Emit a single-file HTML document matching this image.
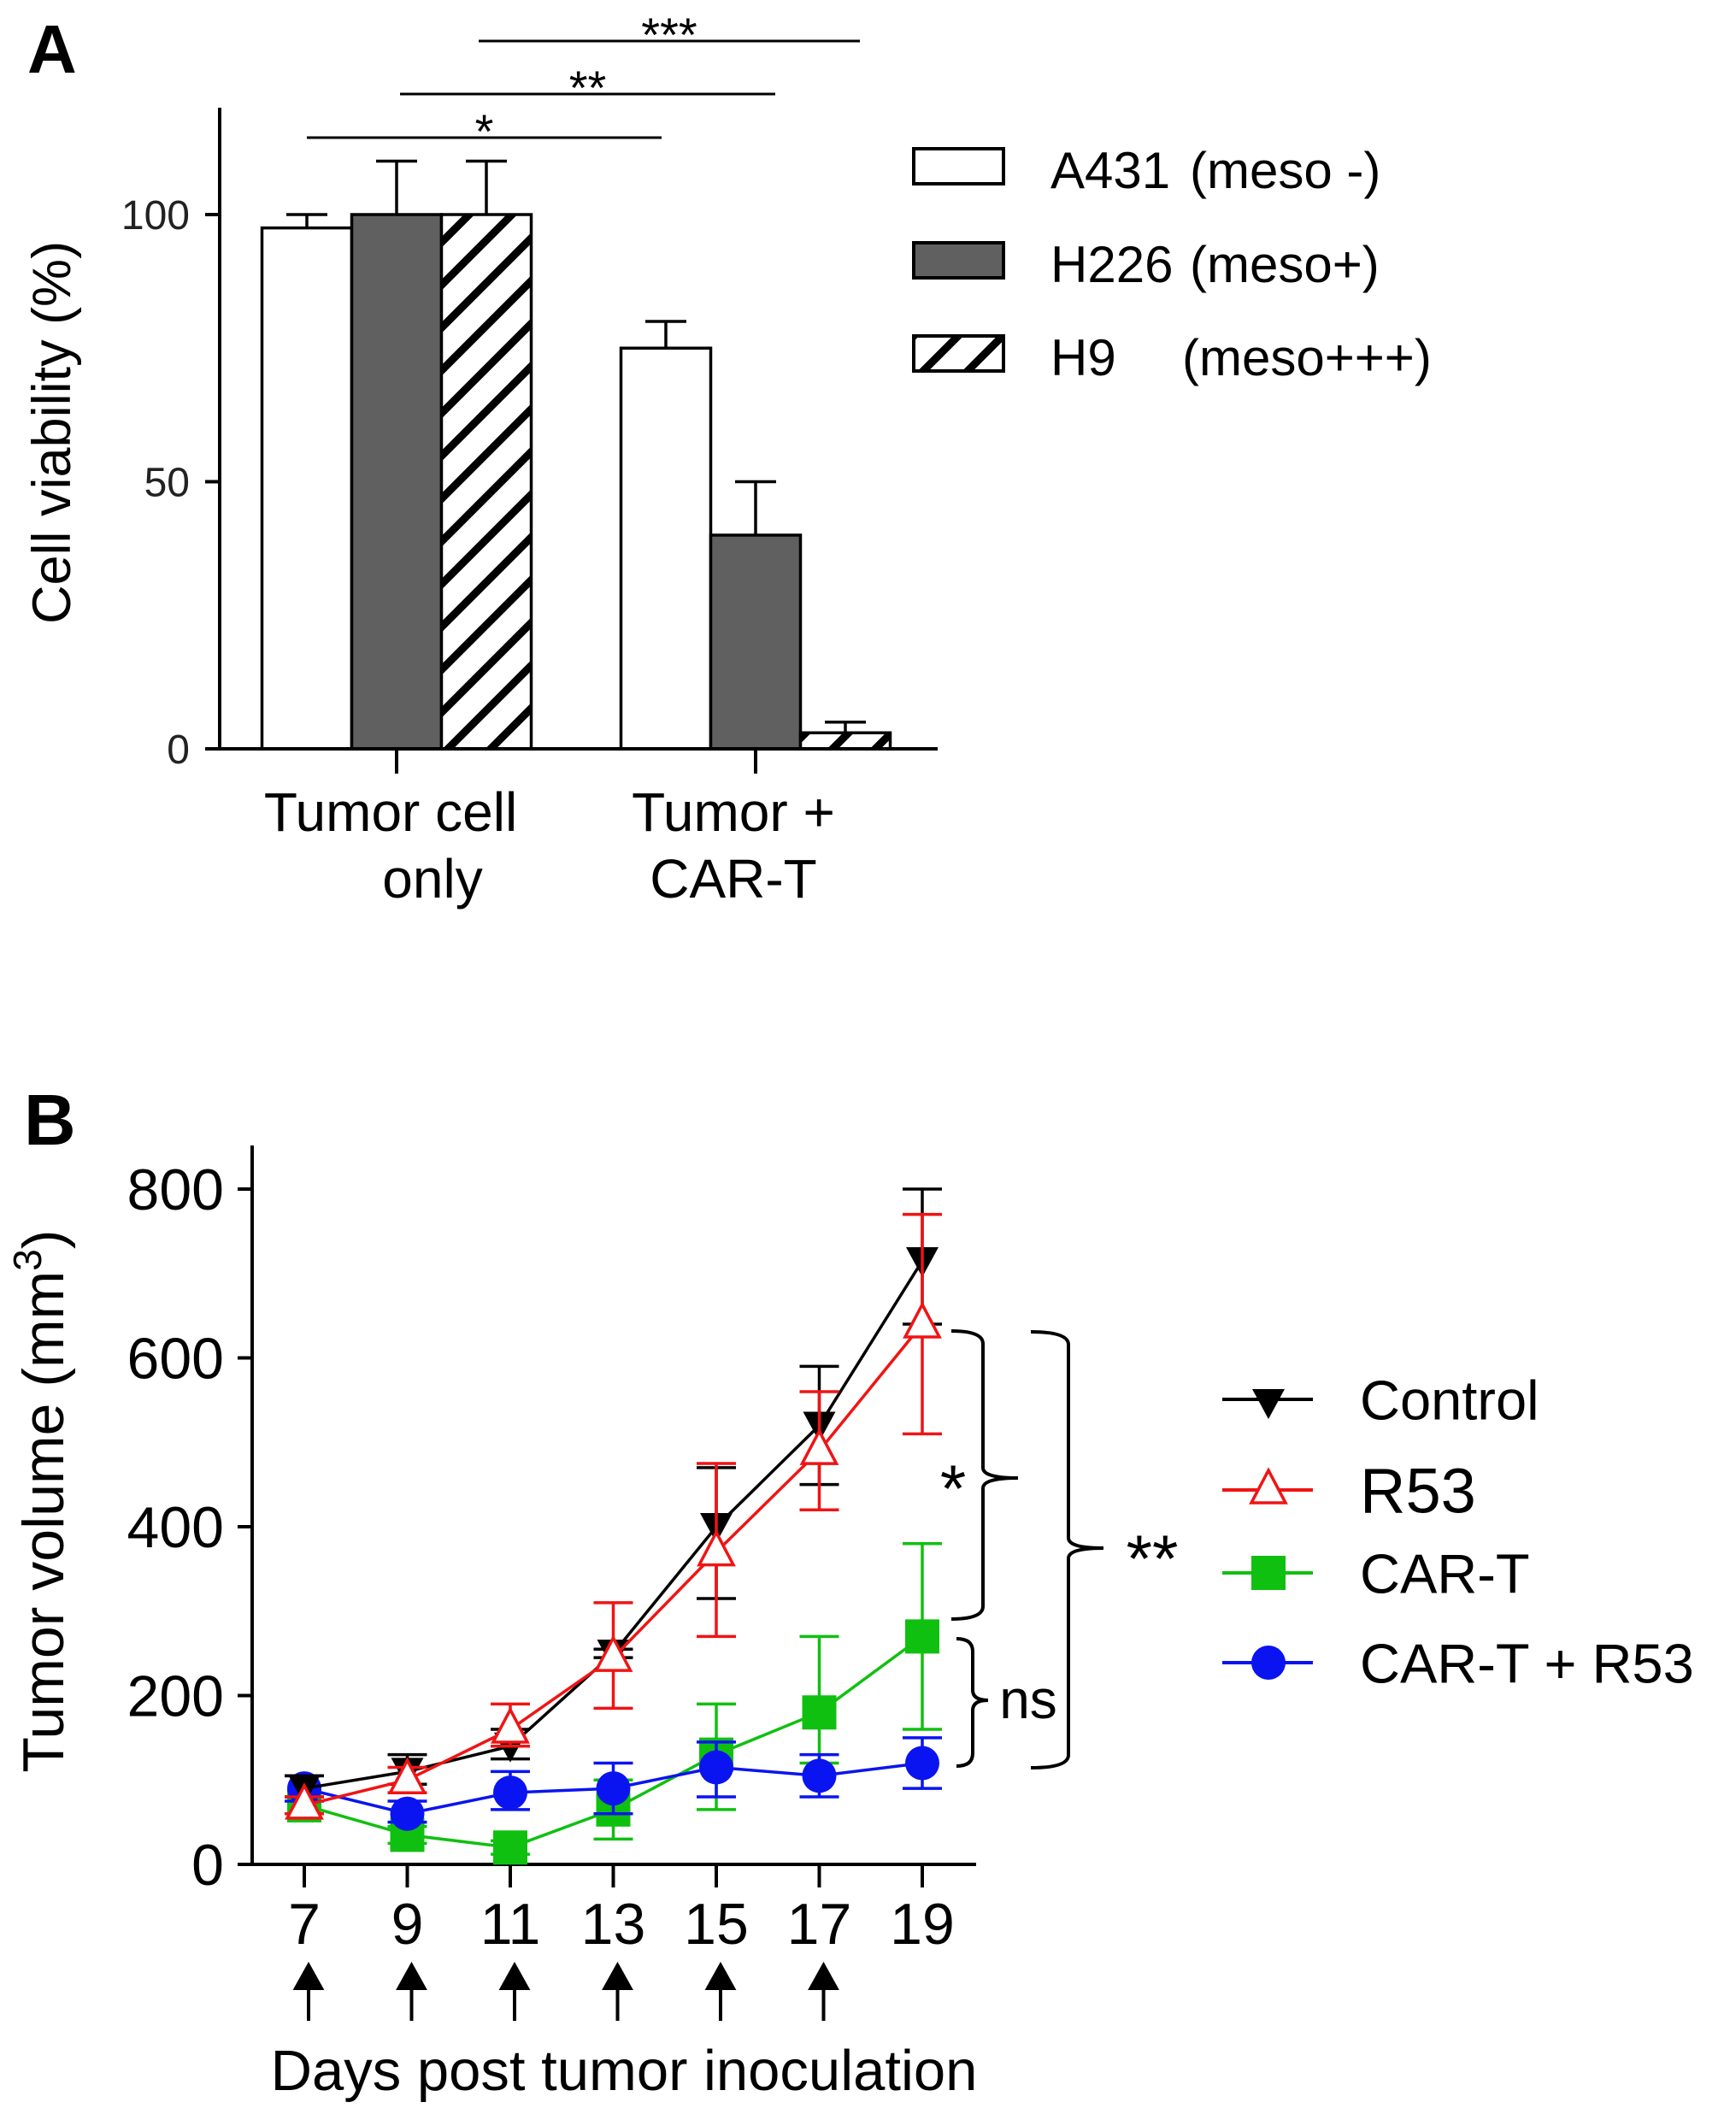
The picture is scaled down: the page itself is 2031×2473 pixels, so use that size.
<!DOCTYPE html>
<html><head><meta charset="utf-8">
<style>
html,body{margin:0;padding:0;background:#fff;}
svg{display:block;font-family:"Liberation Sans",Arial,sans-serif;}
</style></head>
<body>
<svg id="fig" width="2031" height="2473" viewBox="0 0 2031 2473" xmlns="http://www.w3.org/2000/svg">
<defs>
<pattern id="hatch" patternUnits="userSpaceOnUse" width="50" height="50">
<path d="M-10,10 L10,-10 M0,50 L50,0 M40,60 L60,40" stroke="#000" stroke-width="9"/>
</pattern>
<pattern id="hatchL" patternUnits="userSpaceOnUse" width="52" height="52" x="1069" y="393">
<path d="M-10,10 L10,-10 M0,52 L52,0 M42,62 L62,42" stroke="#000" stroke-width="9"/>
</pattern>
</defs>
<g id="panelA"></g>
<g id="panelB"></g>
</svg>
<script>
// ---------- Panel A data ----------
const groupsA = ["Tumor cell only", "Tumor + CAR-T"];
const seriesA = ["A431 (meso -)", "H226 (meso+)", "H9 (meso+++)"];
const a431 = [97.5, 75];
const h226 = [100, 40];
const h9 = [100, 3];
const a431Err = [2.5, 5];
const h226Err = [10, 10];
const h9Err = [10, 2];
const ticksA = [0, 50, 100];

// ---------- Panel B data ----------
const days = [7, 9, 11, 13, 15, 17, 19];
const control = [90, 110, 140, 250, 400, 520, 715];
const controlHi = [105, 130, 160, 255, 470, 590, 800];
const controlLo = [80, 95, 125, 245, 315, 450, 640];
const r53 = [70, 100, 160, 245, 370, 490, 640];
const r53Hi = [80, 115, 190, 310, 475, 560, 770];
const r53Lo = [60, 85, 140, 185, 270, 420, 510];
const cart = [70, 35, 20, 65, 130, 180, 270];
const cartHi = [80, 45, 28, 100, 190, 270, 380];
const cartLo = [60, 25, 12, 30, 65, 120, 160];
const combo = [90, 60, 85, 90, 115, 105, 120];
const comboHi = [105, 75, 110, 120, 145, 130, 150];
const comboLo = [75, 50, 65, 60, 80, 80, 90];
const ticksB = [0, 200, 400, 600, 800];
const arrowDays = [7, 9, 11, 13, 15, 17];

const NS = "http://www.w3.org/2000/svg";
function mk(parent, tag, attrs, text) {
  const e = document.createElementNS(NS, tag);
  for (const k in attrs) e.setAttribute(k, attrs[k]);
  if (text !== undefined) e.textContent = text;
  parent.appendChild(e);
  return e;
}

// ===== Panel A =====
const A = document.getElementById("panelA");
const yA = v => 876 - v * 6.25;
const groupCenters = [464, 884];
const barW = 105;
const xBar = (g, i) => groupCenters[g] + (i - 1.5) * barW;

let t = mk(A, "text", {x: 32, y: 85, "font-size": 80, "font-weight": "bold"}, "A");



const fills = ["#fff", "#606060", "url(#hatch)"];
const vals = [a431, h226, h9];
const errs = [a431Err, h226Err, h9Err];
for (let g = 0; g < groupsA.length; g++) {
  for (let i = 0; i < 3; i++) {
    const x0 = xBar(g, i), v = vals[i][g];
    const top = yA(v + errs[i][g]);
    let eb = mk(A, "path", {d: `M${x0 + barW/2},${yA(v)} V${top} M${x0 + barW/2 - 24},${top} H${x0 + barW/2 + 24}`, stroke: "#000", "stroke-width": 3.5, fill: "none"});
    
    
    if (i === 2) {
      let bg = mk(A, "rect", {x: x0, y: yA(v), width: barW, height: yA(0) - yA(v), fill: "#fff"});
      
      
    }
    let r = mk(A, "rect", {x: x0, y: yA(v), width: barW, height: yA(0) - yA(v), fill: fills[i], stroke: "#000", "stroke-width": 3.5});
    
    
  }
}
let ax = mk(A, "path", {d: "M257,126 V876 M257,876 H1097", stroke: "#000", "stroke-width": 4, fill: "none"});


for (const tv of ticksA) {
  let tk = mk(A, "line", {x1: 240, x2: 257, y1: yA(tv), y2: yA(tv), stroke: "#000", "stroke-width": 4});
  
  
  let tl = mk(A, "text", {x: 222, y: yA(tv) + 17, "font-size": 48, "text-anchor": "end", fill: "#222"}, String(tv));
  
  
}
for (const c of groupCenters) {
  let tk = mk(A, "line", {x1: c, x2: c, y1: 876, y2: 905, stroke: "#000", "stroke-width": 4});
  
  
}
const xlabA = [["Tumor cell", 457, 972], ["only", 506, 1050], ["Tumor +", 858, 972], ["CAR-T", 858, 1050]];
for (const [s, x, y] of xlabA) {
  let tl = mk(A, "text", {x: x, y: y, "font-size": 64, "text-anchor": "middle"}, s);
  
  
}
t = mk(A, "text", {x: 0, y: 0, "font-size": 63, "text-anchor": "middle", transform: "translate(82,506) rotate(-90)"}, "Cell viability (%)");



const sig = [["*", 359, 774, 161], ["**", 468, 907, 110], ["***", 560, 1006, 48]];
for (const [s, x1, x2, y] of sig) {
  let l = mk(A, "line", {x1: x1, x2: x2, y1: y, y2: y, stroke: "#000", "stroke-width": 3});
  
  
  let st = mk(A, "text", {x: (x1 + x2) / 2, y: y + 12, "font-size": 56, "text-anchor": "middle"}, s);
  
  
}
const legA = [[174, "#fff", "A431", "(meso -)", 1392], [284, "#606060", "H226", "(meso+)", 1392], [393, "url(#hatchL)", "H9", "(meso+++)", 1383]];
for (const [y, f, n, m, mx] of legA) {
  if (f.startsWith("url")) mk(A, "rect", {x: 1069, y: y, width: 105, height: 41, fill: "#fff"});
  let r = mk(A, "rect", {x: 1069, y: y, width: 105, height: 41, fill: f, stroke: "#000", "stroke-width": 4});
  
  
  let t1 = mk(A, "text", {x: 1229, y: y + 46, "font-size": 60}, n);
  
  
  let t2 = mk(A, "text", {x: mx, y: y + 46, "font-size": 60}, m);
  
  
}

// ===== Panel B =====
const B = document.getElementById("panelB");
const yB = v => 2181 - v * 790 / 800;
const xB = d => 356 + (d - 7) * 60.25;

t = mk(B, "text", {x: 28, y: 1339, "font-size": 84, "font-weight": "bold"}, "B");



ax = mk(B, "path", {d: "M295,1340 V2181 M295,2181 H1142", stroke: "#000", "stroke-width": 4, fill: "none"});


for (const tv of ticksB) {
  let tk = mk(B, "line", {x1: 278, x2: 295, y1: yB(tv), y2: yB(tv), stroke: "#000", "stroke-width": 4});
  
  
  let tl = mk(B, "text", {x: 262, y: yB(tv) + 24, "font-size": 68, "text-anchor": "end"}, String(tv));
  
  
}
for (const d of days) {
  let tk = mk(B, "line", {x1: xB(d), x2: xB(d), y1: 2181, y2: 2208, stroke: "#000", "stroke-width": 4});
  
  
  let tl = mk(B, "text", {x: xB(d), y: 2274, "font-size": 68, "text-anchor": "middle"}, String(d));
  
  
}
for (const d of arrowDays) {
  const x = xB(d) + 5;
  let ar = mk(B, "path", {d: `M${x},2364 V2320 M${x - 15},2326 L${x},2299 L${x + 15},2326 Z`, stroke: "#000", "stroke-width": 4, fill: "#000"});
  
  
}
t = mk(B, "text", {x: 730, y: 2445, "font-size": 67, "text-anchor": "middle"}, "Days post tumor inoculation");


t = mk(B, "text", {x: 0, y: 0, "font-size": 68, "text-anchor": "middle", transform: "translate(74,1756) rotate(-90)"});


t.appendChild(document.createTextNode("Tumor volume (mm"));
mk(t, "tspan", {"font-size": 46, dy: -26}, "3");
mk(t, "tspan", {dy: 26}, ")");

function marker(g, type, x, y, color) {
  let m;
  if (type === "tdown") m = mk(g, "path", {d: `M${x - 19},${y - 16} H${x + 19} L${x},${y + 19} Z`, fill: color});
  else if (type === "tup") m = mk(g, "path", {d: `M${x},${y - 23} L${x + 20},${y + 15} H${x - 20} Z`, fill: "#fff", stroke: color, "stroke-width": 3.5});
  else if (type === "sq") m = mk(g, "rect", {x: x - 20, y: y - 20, width: 40, height: 40, fill: color});
  else m = mk(g, "circle", {cx: x, cy: y, r: 20, fill: color});
  return m;
}
const seriesB = [
  ["car-t", cart, cartHi, cartLo, "#10c010", "sq"],
  ["car-t-r53", combo, comboHi, comboLo, "#0a14f0", "circle"],
  ["control", control, controlHi, controlLo, "#000", "tdown"],
  ["r53", r53, r53Hi, r53Lo, "#f01414", "tup"]
];
for (const [name, v, hi, lo, col, mt] of seriesB) {
  const g = mk(B, "g", {});
  
  
  for (let i = 0; i < days.length; i++) {
    const x = xB(days[i]);
    let e = mk(g, "path", {d: `M${x},${yB(lo[i])} V${yB(hi[i])} M${x - 23},${yB(hi[i])} H${x + 23} M${x - 23},${yB(lo[i])} H${x + 23}`, stroke: col, "stroke-width": 3.5, fill: "none"});
    
    
  }
  let l = mk(g, "polyline", {points: days.map((d, i) => xB(d) + "," + yB(v[i])).join(" "), fill: "none", stroke: col, "stroke-width": 3.5});
  
  
  for (let i = 0; i < days.length; i++) {
    const m = marker(g, mt, xB(days[i]), yB(v[i]), col);
    
    
  }
}
// significance braces
const braces = [
  ["brace-star", 1113, 1150, 1557, 1894, 1729, 1191, "*", 1115, 1768, 78],
  ["brace-double-star", 1206, 1250, 1558, 2068, 1811, 1291, "**", 1348, 1850, 78],
  ["brace-ns", 1119, 1138, 1917, 2066, 1989, 1156, "ns", 1203, 2010, 64]
];
for (const [n, x0, x1, yt, yb, ym, xt, s, tx, ty, fs] of braces) {
  let p = mk(B, "path", {d: `M${x0},${yt} Q${x1},${yt} ${x1},${yt + 15} V${ym - 12} Q${x1},${ym} ${xt},${ym} Q${x1},${ym} ${x1},${ym + 12} V${yb - 15} Q${x1},${yb} ${x0},${yb}`, fill: "none", stroke: "#000", "stroke-width": 4});
  
  
  let st = mk(B, "text", {x: tx, y: ty, "font-size": fs, "text-anchor": "middle"}, s);
  
  
}
// legend B
const legB = [["Control", 1637, "#000", "tdown", 65], ["R53", 1743, "#f01414", "tup", 74], ["CAR-T", 1840, "#10c010", "sq", 65], ["CAR-T + R53", 1945, "#0a14f0", "circle", 65]];
for (const [n, y, col, mt, fs] of legB) {
  const g = mk(B, "g", {});
  
  
  mk(g, "line", {x1: 1430, x2: 1536, y1: y, y2: y, stroke: col, "stroke-width": 4});
  marker(g, mt, 1484, y + (mt === "tdown" ? 4 : 0), col);
  mk(g, "text", {x: 1591, y: y + fs * 0.36, "font-size": fs}, n);
}
</script>
</body></html>
